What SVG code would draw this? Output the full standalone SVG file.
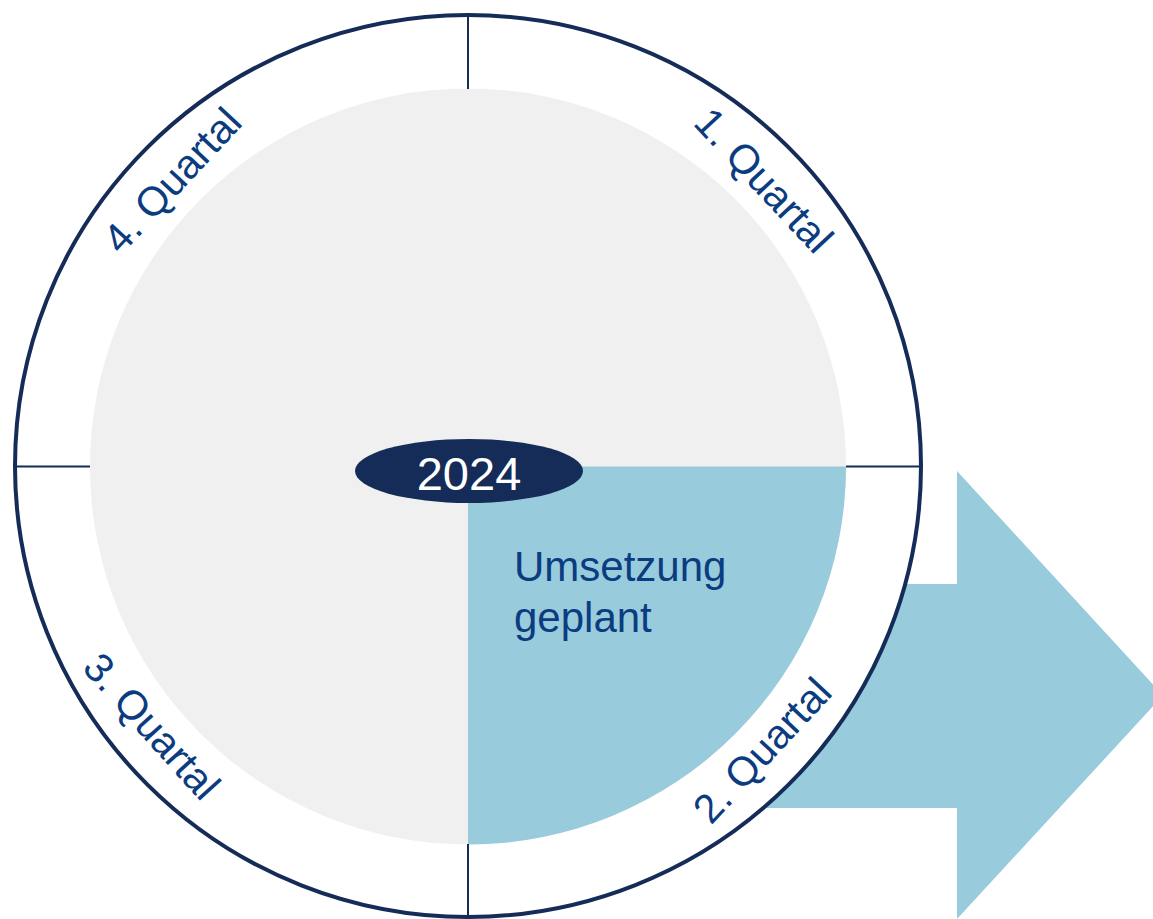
<svg xmlns="http://www.w3.org/2000/svg" width="1153" height="919" viewBox="0 0 1153 919">
<style>
.ring{fill:#ffffff;stroke:#142c57;stroke-width:4}
.div{stroke:#142c57;stroke-width:2;fill:none}
.q{font-family:"Liberation Sans",Arial,sans-serif;font-size:41px;fill:#0b3c80;text-anchor:middle}
.lbl{font-family:"Liberation Sans",Arial,sans-serif;font-size:42px;fill:#0b3c80}
.yr{font-family:"Liberation Sans",Arial,sans-serif;font-size:47px;fill:#ffffff;text-anchor:middle}
</style>
<rect width="1153" height="919" fill="#ffffff"/>
<g id="arrow">
<polygon points="700,584 957,584 957,471 1163,695.5 957,919 957,808 700,808" fill="#98cbdc"/>
</g>
<g id="wheel">
<ellipse class="ring" cx="468" cy="466" rx="453" ry="451"/>
<circle cx="468" cy="466.5" r="378" fill="#f0f0f0"/>
<path d="M468,466.5 L846,466.5 A378,378 0 0 1 468,844.5 Z" fill="#98cbdc"/>
</g>
<g id="connectors">
<line class="div" x1="468" y1="15" x2="468" y2="89"/>
<line class="div" x1="468" y1="844" x2="468" y2="917"/>
<line class="div" x1="15" y1="466.5" x2="90" y2="466.5"/>
<line class="div" x1="846" y1="466.5" x2="921" y2="466.5"/>
</g>
<g id="q1"><text class="q" transform="translate(763,181) rotate(47)" y="13">1. Quartal</text></g>
<g id="q2"><text class="q" transform="translate(763,751) rotate(-47)" y="13">2. Quartal</text></g>
<g id="q3"><text class="q" transform="translate(151,727) rotate(48)" y="13">3. Quartal</text></g>
<g id="q4"><text class="q" transform="translate(173,181) rotate(-47)" y="13">4. Quartal</text></g>
<g id="center">
<ellipse cx="469" cy="471" rx="114" ry="32" fill="#142c57"/>
<text class="yr" x="469" y="490">2024</text>
</g>
<g id="status">
<text class="lbl" x="514" y="581">Umsetzung</text>
<text class="lbl" x="514" y="632">geplant</text>
</g>
</svg>
